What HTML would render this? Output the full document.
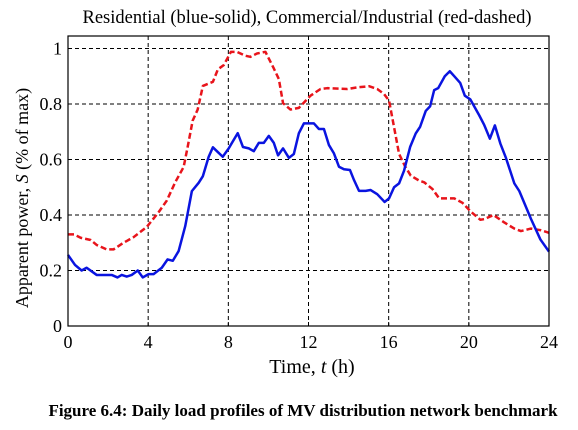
<!DOCTYPE html>
<html><head><meta charset="utf-8"><style>
body{margin:0;background:#fff;width:578px;height:425px;overflow:hidden}
text{font-family:"Liberation Serif",serif}
</style></head><body>
<svg id="chart" width="578" height="425" xmlns="http://www.w3.org/2000/svg"></svg>
<script>
const xTicks=[0,4,8,12,16,20,24];
const yTicks=[0,0.2,0.4,0.6,0.8,1];
const yTickLabels=["0","0.2","0.4","0.6","0.8","1"];
const resHours=[0,0.35,0.68,0.93,1.43,2.18,2.47,2.68,2.93,3.18,3.48,3.73,4.02,4.27,4.68,4.97,5.23,5.52,5.85,6.18,6.52,6.73,7.02,7.23,7.43,7.72,8.02,8.18,8.47,8.73,9.02,9.27,9.52,9.77,10.02,10.27,10.48,10.73,11.02,11.27,11.52,11.77,12.27,12.52,12.77,13.02,13.27,13.52,13.77,14.07,14.27,14.52,14.85,15.1,15.43,15.8,16.02,16.27,16.52,16.77,17.07,17.35,17.57,17.85,18.07,18.27,18.47,18.8,19.05,19.3,19.57,19.8,20.07,20.52,20.77,21.05,21.3,21.57,21.85,22.27,22.52,23.1,23.57,24];
const resValues=[0.256,0.22,0.2,0.21,0.184,0.184,0.175,0.184,0.178,0.184,0.2,0.175,0.187,0.187,0.21,0.24,0.235,0.27,0.36,0.486,0.516,0.54,0.61,0.644,0.63,0.61,0.64,0.66,0.695,0.645,0.64,0.63,0.66,0.66,0.685,0.66,0.615,0.64,0.606,0.62,0.695,0.73,0.73,0.71,0.71,0.652,0.622,0.574,0.565,0.562,0.526,0.487,0.487,0.49,0.475,0.447,0.46,0.5,0.514,0.56,0.645,0.694,0.718,0.775,0.792,0.85,0.857,0.9,0.918,0.898,0.876,0.83,0.817,0.759,0.724,0.675,0.723,0.658,0.606,0.514,0.486,0.386,0.312,0.268];
const comHours=[0,0.3,0.63,1.13,1.43,1.93,2.27,2.77,3.27,3.93,4.52,4.93,5.35,5.77,5.97,6.22,6.47,6.73,7.23,7.48,7.77,8.13,8.43,8.85,9.1,9.43,9.85,10.27,10.52,10.73,11.1,11.52,12.1,12.6,12.93,13.93,14.43,15.02,15.43,15.77,16.02,16.27,16.52,16.8,17.1,17.52,17.77,18.18,18.52,19.27,19.68,20.1,20.57,20.77,21.23,21.77,22.27,22.6,23.1,23.6,24];
const comValues=[0.33,0.33,0.318,0.31,0.292,0.276,0.276,0.3,0.32,0.357,0.41,0.452,0.518,0.573,0.645,0.74,0.78,0.865,0.88,0.925,0.94,0.988,0.988,0.974,0.97,0.982,0.988,0.928,0.89,0.803,0.78,0.786,0.83,0.854,0.857,0.854,0.86,0.864,0.854,0.836,0.812,0.716,0.62,0.578,0.542,0.524,0.518,0.494,0.46,0.46,0.444,0.412,0.383,0.385,0.4,0.373,0.351,0.342,0.351,0.345,0.336];

const NS="http://www.w3.org/2000/svg", svg=document.getElementById('chart');
const L=68,R=549,T=36,B=326;
const xs=h=>L+(R-L)*h/24, ys=v=>B-277.5*v;
function mk(tag,attrs,parent){const e=document.createElementNS(NS,tag);for(const k in attrs)e.setAttribute(k,attrs[k]);(parent||svg).appendChild(e);return e;}

const grid=mk('g',{});


xTicks.slice(1,-1).forEach(t=>{mk('line',{x1:xs(t),x2:xs(t),y1:T,y2:B,stroke:'#000','stroke-width':1,'stroke-dasharray':'4,3'},grid);});
yTicks.slice(1).forEach(t=>{mk('line',{x1:L,x2:R,y1:ys(t),y2:ys(t),stroke:'#000','stroke-width':1,'stroke-dasharray':'4,3'},grid);});

function series(hs,vs,color,dash,name){
  const p=mk('polyline',{points:hs.map((h,i)=>xs(h)+','+ys(vs[i])).join(' '),fill:'none',stroke:color,'stroke-width':2.5,'stroke-linejoin':'round'});
  if(dash)p.setAttribute('stroke-dasharray',dash);
  
  
}
series(comHours,comValues,'#e8141b','6,3','commercial-industrial-line');
series(resHours,resValues,'#0a14e0',null,'residential-line');

const box=mk('rect',{x:L,y:T,width:R-L,height:B-T,fill:'none',stroke:'#000','stroke-width':1.2});



xTicks.forEach(t=>{
  mk('line',{x1:xs(t),x2:xs(t),y1:B,y2:B-4,stroke:'#000'});
  const tx=mk('text',{x:xs(t),y:B+22,'text-anchor':'middle','font-size':18});
  tx.textContent=t;
  
  
});
yTicks.forEach((t,i)=>{
  mk('line',{x1:L,x2:L+4,y1:ys(t),y2:ys(t),stroke:'#000'});
  const tx=mk('text',{x:L-6,y:ys(t)+6,'text-anchor':'end','font-size':18});
  tx.textContent=yTickLabels[i];
  
  
});
</script>
<svg width="578" height="425" style="position:absolute;left:0;top:0" xmlns="http://www.w3.org/2000/svg">
<text x="307" y="23" text-anchor="middle" font-size="18.5" font-family="Liberation Serif,serif">Residential (blue-solid), Commercial/Industrial (red-dashed)</text>
<text x="312" y="373" text-anchor="middle" font-size="20" font-family="Liberation Serif,serif">Time,  <tspan font-style="italic">t</tspan> (h)</text>
<text transform="translate(28,198) rotate(-90)" text-anchor="middle" font-size="18" font-family="Liberation Serif,serif">Apparent power, <tspan font-style="italic">S</tspan> (% of max)</text>
<text x="303" y="416" text-anchor="middle" font-size="17" font-weight="bold" font-family="Liberation Serif,serif">Figure 6.4: Daily load profiles of MV distribution network benchmark</text>
</svg>
</body></html>
